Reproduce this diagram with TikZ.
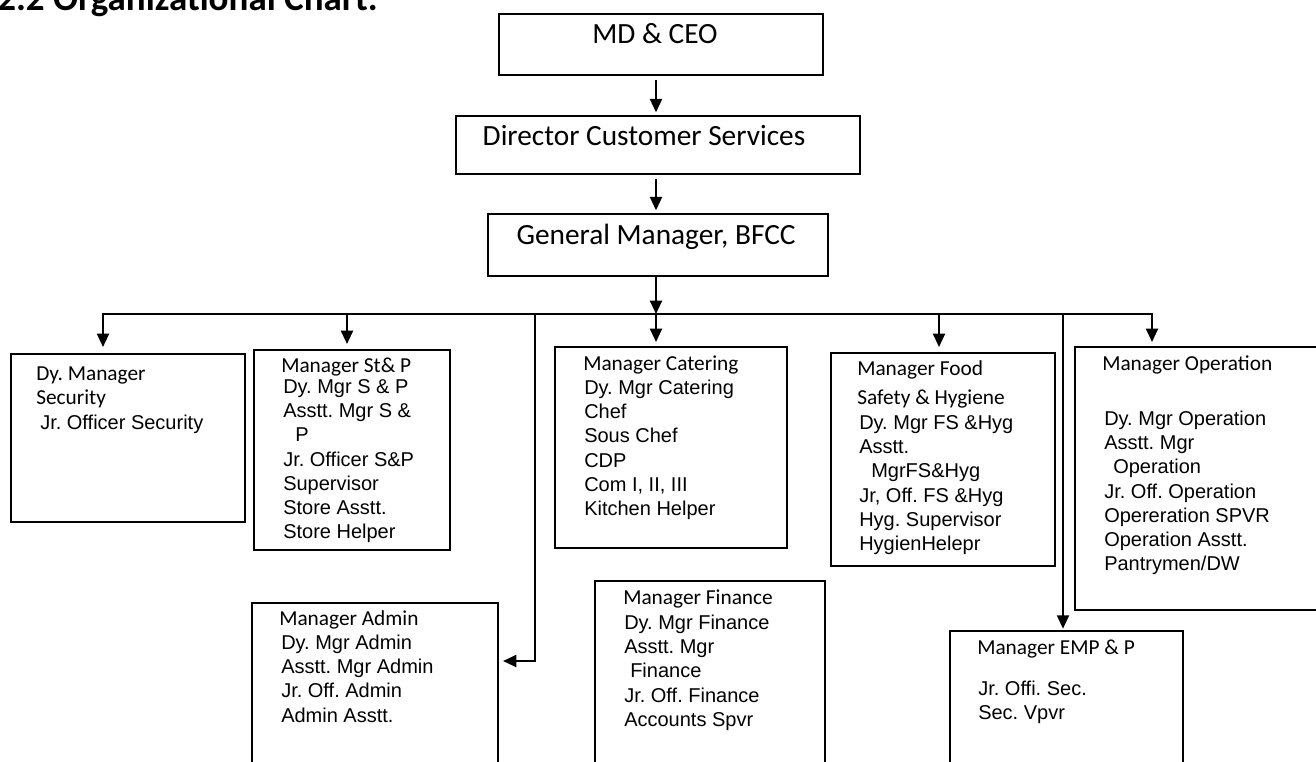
\documentclass[tikz,border=0pt]{standalone}
\usepackage{fontspec}
\setmainfont{Carlito}
\newfontfamily\calfont{Carlito}
\newfontfamily\arialfont{Liberation Sans}
\usetikzlibrary{arrows.meta}
\frenchspacing
\tikzset{
  bx/.style 2 args={draw, line width=1.5pt, inner sep=0pt, minimum width=#1*0.75pt, minimum height=#2*0.75pt},
  big/.style={inner sep=0pt, font=\calfont\fontsize{22}{26}\selectfont},
  hdr/.style={anchor=north west, inner sep=0pt, align=left, font=\calfont\fontsize{16}{18}\selectfont},
  itm/.style={anchor=north west, inner sep=0pt, align=left, font=\arialfont\fontsize{15}{18.2}\selectfont},
  arr/.style={line width=1.5pt, -{Triangle[width=9pt,length=10pt]}},
}

\begin{document}
\begin{tikzpicture}[x=0.75pt, y=-0.75pt]
\useasboundingbox (0,0) rectangle (1316,762);
\node[inner sep=0pt, anchor=base east, font=\calfont\bfseries\fontsize{27.75}{30}\selectfont] (title) at (378,11) {2.2 Organizational Chart.};

% top of the chart
\node[bx={324}{61}] (md) at (661,44.5) {};
\node[big, anchor=base] (mdT) at (655,43.3) {MD \& CEO};
\node[bx={404}{58}] (dcs) at (658,145) {};
\node[big, anchor=base] (dcsT) at (644,145.7) {Director Customer Services};
\node[bx={340}{62}] (gm) at (658,245) {};
\node[big, anchor=base] (gmT) at (656,245) {General Manager, BFCC};

% managers
\node[bx={234}{168}] (sec) at (128,438) {};
\node[bx={196}{200}] (stp) at (352,450) {};
\node[bx={232}{201}] (cat) at (671,447.5) {};
\node[bx={224}{213}] (fsh) at (943,459.5) {};
\node[bx={255}{263}] (opr) at (1202.5,478.5) {};
\node[bx={246}{197}] (adm) at (375,701.5) {};
\node[bx={230}{219}] (fin) at (710,690.5) {};
\node[bx={233}{169}] (emp) at (1066.5,715.5) {};

\node[hdr] (secH) at (36,363.2) {\strut Dy. Manager\\Security};
\node[itm] (secI) at (40,412) {\strut Jr. Officer Security};
\node[hdr] (stpH) at (281,355) {\strut Manager St\& P};
\node[itm] (stpI) at (283,376) {\strut Dy. Mgr S \& P\\Asstt. Mgr S \&\\\hspace*{9pt}P\\Jr. Officer S\&P\\Supervisor\\Store Asstt.\\Store Helper};
\node[hdr] (catH) at (583,353.2) {\strut Manager Catering};
\node[itm] (catI) at (584,377) {\strut Dy. Mgr Catering\\Chef\\Sous Chef\\CDP\\Com I, II, III\\Kitchen Helper};
\node[hdr] (fshH) at (857,358.2) {\strut Manager Food\\[3.75pt]Safety \& Hygiene};
\node[itm] (fshI) at (859,412) {\strut Dy. Mgr FS \&Hyg\\Asstt.\\\hspace*{9pt}MgrFS\&Hyg\\Jr, Off. FS \&Hyg\\Hyg. Supervisor\\HygienHelepr};
\node[hdr] (oprH) at (1102,353.2) {\strut Manager Operation};
\node[itm] (oprI) at (1104,408) {\strut Dy. Mgr Operation\\Asstt. Mgr\\\hspace*{6.75pt}Operation\\Jr. Off. Operation\\Opereration SPVR\\Operation Asstt.\\Pantrymen/DW};
\node[hdr] (admH) at (279,608.2) {\strut Manager Admin};
\node[itm] (admI) at (281,632) {\strut Dy. Mgr Admin\\Asstt. Mgr Admin\\Jr. Off. Admin\\Admin Asstt.};
\node[hdr] (finH) at (623,587.2) {\strut Manager Finance};
\node[itm] (finI) at (624,612) {\strut Dy. Mgr Finance\\Asstt. Mgr\\\hspace*{4.5pt}Finance\\Jr. Off. Finance\\Accounts Spvr};
\node[hdr] (empH) at (977,637.2) {\strut Manager EMP \& P};
\node[itm] (empI) at (978,678) {\strut Jr. Offi. Sec.\\Sec. Vpvr};

% connectors
\coordinate (trunk) at (656,314);
\coordinate (bL) at (103,314);
\coordinate (bR) at (1152,314);
\coordinate (dStp) at (347,314);
\coordinate (dAdm) at (535,314);
\coordinate (kAdm) at (535,661);
\coordinate (dFsh) at (939,314);
\coordinate (dEmp) at (1063,314);
\draw[arr, shorten >=2pt] ([yshift=-3pt]md.south -| trunk) -- (dcs.north -| trunk);
\draw[arr, shorten >=2pt] ([yshift=-3pt]dcs.south -| trunk) -- (gm.north -| trunk);
\draw[arr] (gm.south -| trunk) -- (trunk);
\draw[arr, shorten >=4.5pt] (trunk) -- (bL) -- (bL |- sec.north);
\draw[arr, shorten >=3pt] (trunk) -- (bR) -- (bR |- opr.north);
\draw[arr, shorten >=3.75pt] (dStp) -- (dStp |- stp.north);
\draw[arr, shorten >=3pt] (trunk) -- (trunk |- cat.north);
\draw[arr, shorten >=3.75pt] (dFsh) -- (dFsh |- fsh.north);
\draw[arr, shorten >=1pt] (dEmp) -- (dEmp |- emp.north);
\draw[arr, shorten >=3pt] (dAdm) -- (kAdm) -- (kAdm -| adm.east);
\end{tikzpicture}
\end{document}
